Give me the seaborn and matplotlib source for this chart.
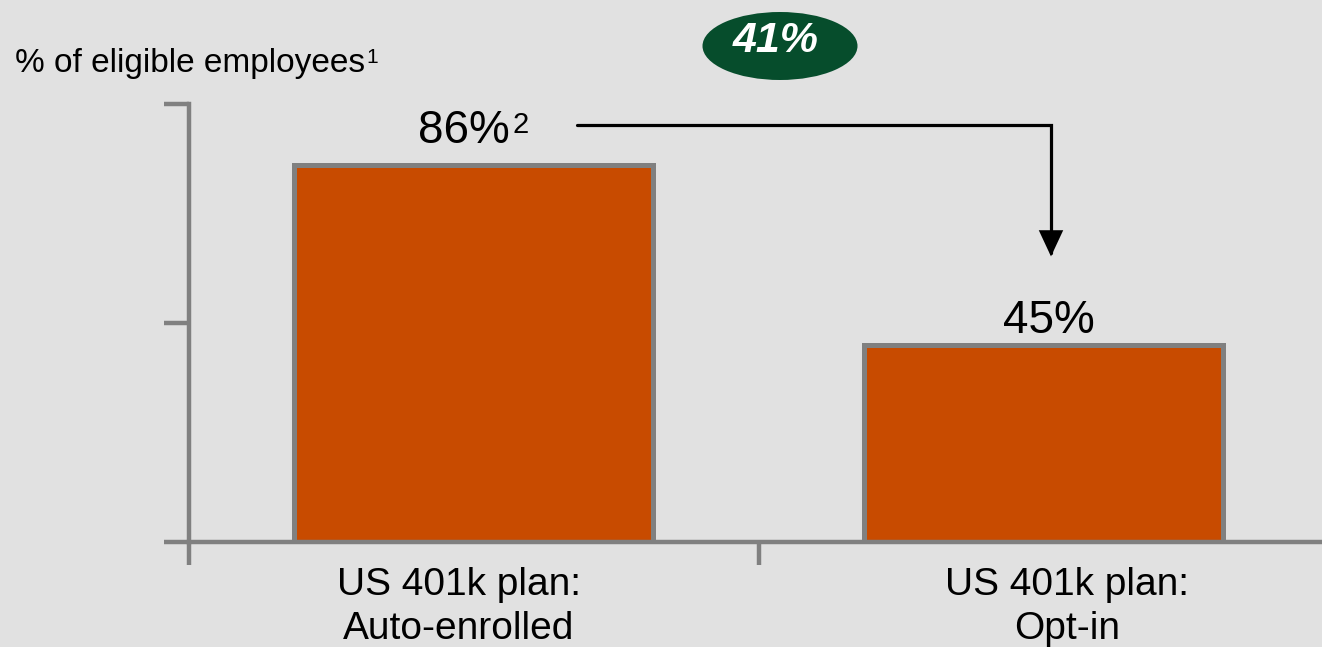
import matplotlib
matplotlib.use("Agg")
import matplotlib.pyplot as plt
from matplotlib.patches import Ellipse
import seaborn as sns
import pandas as pd

# Participation data
categories = ["US 401k plan:\nAuto-enrolled", "US 401k plan:\nOpt-in"]
values = [86, 45]
value_notes = ["2", ""]
y_ticks = [0, 50, 100]
y_label = "% of eligible employees"
y_label_note = "1"

BG = "#e1e1e1"
BAR = "#c84b00"
EDGE = "#808080"
GREEN = "#064d2c"

sns.set_style("white", {"axes.facecolor": BG, "figure.facecolor": BG})
plt.rcParams["font.family"] = ["Liberation Sans", "DejaVu Sans"]

W, H = 1322, 647
fig = plt.figure(figsize=(W / 100, H / 100), dpi=100)
ax = fig.add_axes([189 / W, 105 / H, (W - 189) / W, 438 / H])

df = pd.DataFrame({"plan": categories, "pct": values})
sns.barplot(data=df, x="plan", y="pct", color=BAR, saturation=1,
            edgecolor=EDGE, linewidth=3.6, width=0.63, ax=ax)

ax.set_xlim(-0.5, (W - 189) / 569.5 - 0.5)
ax.set_ylim(0, 100)
ax.set_xlabel("")
ax.set_ylabel("")

# Axis frame: left and bottom only, gray and heavy
for side in ("top", "right"):
    ax.spines[side].set_visible(False)
for side in ("left", "bottom"):
    ax.spines[side].set_color(EDGE)
    ax.spines[side].set_linewidth(3.2)
    ax.spines[side].set_zorder(5)

ax.set_yticks(y_ticks)
ax.set_yticklabels([])
ax.tick_params(axis="y", left=True, length=18, width=3.2, color=EDGE,
               direction="out")

# Category separators as downward ticks
ax.set_xticks([-0.5, 0.5])
ax.set_xticklabels([])
ax.tick_params(axis="x", which="major", bottom=True, length=16.5, width=3.2,
               color=EDGE, direction="out")

label_shift_px = [-15, 24]
for i, name in enumerate(categories):
    ax.annotate(name, xy=(i, 0), xytext=(label_shift_px[i] * 0.72, -18),
                textcoords="offset points", ha="center", va="top",
                fontsize=28, linespacing=1.3, color="black",
                annotation_clip=False)

# Value labels above bars
value_offsets_px = [(-9.5, 22), (5.5, 12)]
for i, (v, note) in enumerate(zip(values, value_notes)):
    dx, dy = value_offsets_px[i]
    t = ax.annotate(f"{v:.0f}%", xy=(i, v), xytext=(dx * 0.72, dy * 0.72),
                    textcoords="offset points", ha="center", va="baseline",
                    fontsize=33, color="black")
    if note:
        ax.annotate(note, xy=(1, 1), xycoords=t, xytext=(1.5, -1),
                    textcoords="offset points", ha="left", va="top",
                    fontsize=21, color="black")

# Y-axis caption
cap = fig.text(15 / W, 1 - 72 / H, y_label, ha="left", va="baseline",
               fontsize=24, color="black")
ax.annotate(y_label_note, xy=(1, 1), xycoords=cap, xytext=(1, 0),
            textcoords="offset points", ha="left", va="top", fontsize=15,
            color="black", annotation_clip=False)

# Elbow arrow from the first bar's level down to the second
x_start = 0.181
x_turn = 1.0136
y_top = values[0] + 9.2
y_tip = values[1] + 20.2
ax.annotate("", xy=(x_turn, y_tip), xytext=(x_start, y_top),
            arrowprops=dict(arrowstyle="-|>,head_length=1.5,head_width=0.7",
                            connectionstyle="angle,angleA=0,angleB=90,rad=0",
                            color="black", lw=2.3, shrinkA=0, shrinkB=0,
                            joinstyle="miter"),
            annotation_clip=False)

# Difference badge
gap = values[0] - values[1]
ell = Ellipse((780 / W, 1 - 46 / H), 155 / W, 68 / H, transform=fig.transFigure,
              facecolor=GREEN, edgecolor="none")
fig.patches.append(ell)
fig.text(776 / W, 1 - 41 / H, f"{gap}%", ha="center", va="center",
         fontsize=31, fontweight="bold", fontstyle="italic", color="white")

fig.savefig("out.png", dpi=100, facecolor=BG)
